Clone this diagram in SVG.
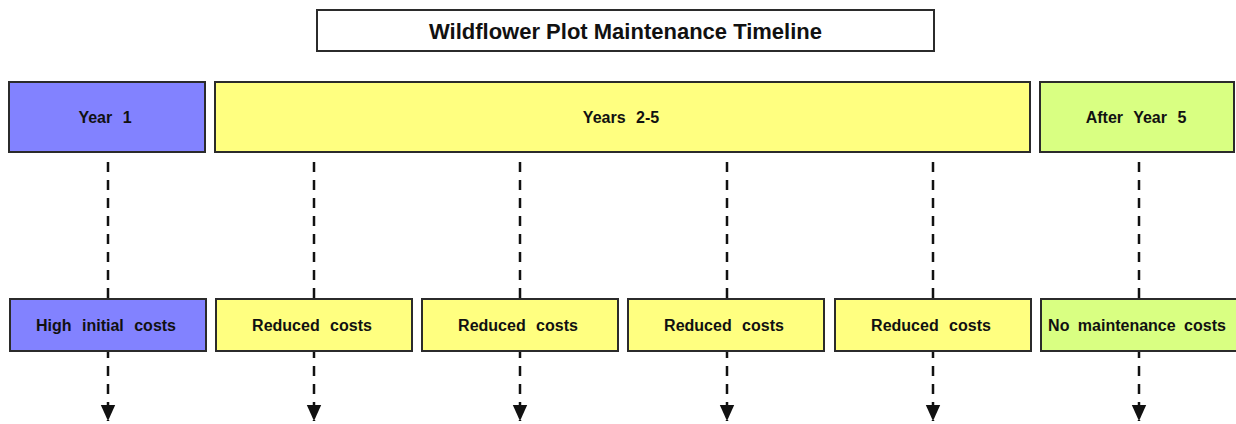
<svg xmlns="http://www.w3.org/2000/svg" width="1236" height="424" viewBox="0 0 1236 424">
<defs>
<style>
.box{stroke:#2b2b2b;stroke-width:2}
.blue{fill:#8282ff}
.yellow{fill:#ffff80}
.green{fill:#d9ff82}
.lbl{font-family:"Liberation Sans",Arial,sans-serif;font-weight:bold;font-size:16px;fill:#111;text-anchor:middle;dominant-baseline:central;word-spacing:6px}
.title{font-family:"Liberation Sans",Arial,sans-serif;font-weight:bold;font-size:22px;fill:#111;text-anchor:middle;dominant-baseline:central}
.dash{stroke:#111;stroke-width:2.5;fill:none;stroke-dasharray:10 8}
</style>
<marker id="arr" viewBox="0 0 10 10" refX="10" refY="5" markerWidth="16" markerHeight="16" markerUnits="userSpaceOnUse" orient="auto">
<path d="M0,0.5 L10,5 L0,9.5 z" fill="#111"/>
</marker>
</defs>
<rect width="1236" height="424" fill="#ffffff"/>
<g id="title">
<rect x="317" y="10" width="617" height="41" fill="#ffffff" class="box"/>
<text x="625.5" y="31" class="title">Wildflower Plot Maintenance Timeline</text>
</g>
<g id="connectors">
<line x1="108" y1="162" x2="108" y2="299" class="dash"/>
<line x1="314" y1="162" x2="314" y2="299" class="dash"/>
<line x1="520" y1="162" x2="520" y2="299" class="dash"/>
<line x1="727" y1="162" x2="727" y2="299" class="dash"/>
<line x1="933" y1="162" x2="933" y2="299" class="dash"/>
<line x1="1139" y1="162" x2="1139" y2="299" class="dash"/>
<line x1="108" y1="351" x2="108" y2="421" class="dash" stroke-dashoffset="3" marker-end="url(#arr)"/>
<line x1="314" y1="351" x2="314" y2="421" class="dash" stroke-dashoffset="3" marker-end="url(#arr)"/>
<line x1="520" y1="351" x2="520" y2="421" class="dash" stroke-dashoffset="3" marker-end="url(#arr)"/>
<line x1="727" y1="351" x2="727" y2="421" class="dash" stroke-dashoffset="3" marker-end="url(#arr)"/>
<line x1="933" y1="351" x2="933" y2="421" class="dash" stroke-dashoffset="3" marker-end="url(#arr)"/>
<line x1="1139" y1="351" x2="1139" y2="421" class="dash" stroke-dashoffset="3" marker-end="url(#arr)"/>
</g>
<g id="year1">
<rect x="9" y="82" width="196" height="70" class="box blue"/>
<text x="105" y="117" class="lbl">Year 1</text>
</g>
<g id="years2to5">
<rect x="215" y="82" width="815" height="70" class="box yellow"/>
<text x="621" y="117" class="lbl">Years 2-5</text>
</g>
<g id="after5">
<rect x="1040" y="82" width="194" height="70" class="box green"/>
<text x="1136" y="117" class="lbl">After Year 5</text>
</g>
<g id="high">
<rect x="10" y="299" width="196" height="52" class="box blue"/>
<text x="106" y="325" class="lbl">High initial costs</text>
</g>
<g id="reduced1">
<rect x="216" y="299" width="196" height="52" class="box yellow"/>
<text x="312" y="325" class="lbl">Reduced costs</text>
</g>
<g id="reduced2">
<rect x="422" y="299" width="196" height="52" class="box yellow"/>
<text x="518" y="325" class="lbl">Reduced costs</text>
</g>
<g id="reduced3">
<rect x="628" y="299" width="196" height="52" class="box yellow"/>
<text x="724" y="325" class="lbl">Reduced costs</text>
</g>
<g id="reduced4">
<rect x="835" y="299" width="196" height="52" class="box yellow"/>
<text x="931" y="325" class="lbl">Reduced costs</text>
</g>
<g id="nomaint">
<rect x="1041" y="299" width="196" height="52" class="box green"/>
<text x="1137" y="325" class="lbl" style="word-spacing:4px">No maintenance costs</text>
</g>
</svg>
